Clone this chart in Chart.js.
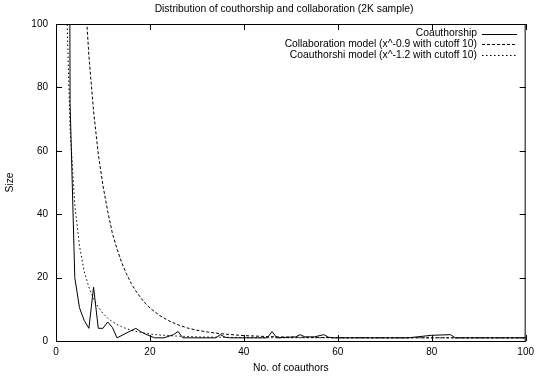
<!DOCTYPE html>
<html>
<head>
<meta charset="utf-8">
<script src="https://cdn.jsdelivr.net/npm/chart.js@4/dist/chart.umd.min.js"></script>
<style>
html,body{margin:0;padding:0;background:#fff;}
</style>
</head>
<body>
<canvas id="chart" width="539" height="380"></canvas>
<script>
const chartTitle = "Distribution of couthorship and collaboration (2K sample)";
const xTitle = "No. of coauthors";
const yTitle = "Size";
const xTicks = [0, 20, 40, 60, 80, 100];
const yTicks = [0, 20, 40, 60, 80, 100];

// measured coauthorship distribution
const coauthLabel = "Coauthorship";
const coauthX = [2, 3, 4, 5, 6, 7, 8, 9, 10, 11, 12, 13, 17, 18, 19, 20, 21, 23, 25, 26, 27, 34, 35, 36, 37, 45, 46, 47, 51, 52, 53, 55, 57, 58, 59, 75, 80, 84, 85, 100];
const coauthY = [600, 75, 20, 10.5, 6.5, 4, 17, 4, 4, 6, 4.3, 1, 4, 3, 2.2, 1.6, 1, 1, 2, 3, 1, 1, 2, 1.2, 1, 1, 3, 1, 1.3, 2, 1.3, 1.3, 2, 1.2, 1, 1, 1.8, 2, 1, 1];

// collaboration model curve (dashed)
const collabLabel = "Collaboration model (x^-0.9 with cutoff 10)";
const collabX = [4, 5, 6, 7, 8, 9, 10, 11, 12, 13, 14, 15, 16, 17, 18, 19, 20, 22, 24, 26, 28, 30, 32, 35, 40, 45, 50, 60, 70, 100];
const collabY = [200, 148, 114, 90, 72.5, 59, 49, 41, 34, 29, 24.7, 21.2, 18.2, 15.8, 13.7, 11.9, 10.4, 8.1, 6.4, 5.1, 4.1, 3.4, 2.9, 2.3, 1.7, 1.4, 1.2, 1.06, 1.02, 1];

// coauthorship model curve (dotted)
const modelLabel = "Coauthorshi model (x^-1.2 with cutoff 10)";
const modelX = [2, 3, 4, 5, 6, 7, 8, 9, 10, 11, 12, 13, 14, 15, 16, 18, 20, 22, 25, 30, 40, 50, 100];
const modelY = [120, 67, 43, 30, 22, 17, 13.3, 10.7, 8.7, 7.2, 6.1, 5.2, 4.5, 3.9, 3.4, 2.7, 2.2, 1.9, 1.6, 1.3, 1.07, 1.02, 1];

const toPoints = (xs, ys) => xs.map((x, i) => ({x: x, y: ys[i]}));

Chart.defaults.font.family = '"Liberation Sans", Arial, Helvetica, sans-serif';
Chart.defaults.font.size = 10;
Chart.defaults.color = "#000";

// gnuplot style border with inward ticks on all four sides
const frame = {
    id: "frame",
    afterDatasetsDraw(c) {
        const {ctx, chartArea: a, scales: {x, y}} = c;
        ctx.save();
        ctx.strokeStyle = "#000";
        ctx.lineWidth = 1;
        ctx.strokeRect(a.left + 0.5, a.top + 0.5, a.right - a.left - 1, a.bottom - a.top);
        ctx.beginPath();
        xTicks.forEach(v => {
            const px = Math.round(x.getPixelForValue(v)) + 0.5;
            ctx.moveTo(px, a.bottom); ctx.lineTo(px, a.bottom - 6);
            ctx.moveTo(px, a.top); ctx.lineTo(px, a.top + 6);
        });
        yTicks.forEach(v => {
            const py = Math.round(y.getPixelForValue(v)) + 0.5;
            ctx.moveTo(a.left, py); ctx.lineTo(a.left + 6, py);
            ctx.moveTo(a.right, py); ctx.lineTo(a.right - 6, py);
        });
        ctx.stroke();
        ctx.restore();
    }
};

const titleAndKey = {
    id: "titleAndKey",
    afterDraw(c) {
        const ctx = c.ctx;
        ctx.save();
        ctx.fillStyle = "#000";
        ctx.font = '10.3px "Liberation Sans", Arial, sans-serif';
        ctx.textAlign = "center";
        ctx.textBaseline = "middle";
        ctx.fillText(chartTitle, 284, 9);
        ctx.textAlign = "right";
        c.data.datasets.forEach((ds, i) => {
            const yy = 33.5 + i * 10.6;
            ctx.fillText(ds.label, 477, yy);
            ctx.beginPath();
            ctx.setLineDash(ds.borderDash || []);
            ctx.lineWidth = 1;
            ctx.strokeStyle = "#000";
            ctx.moveTo(482, Math.round(yy) + 0.5);
            ctx.lineTo(517, Math.round(yy) + 0.5);
            ctx.stroke();
        });
        ctx.restore();
    }
};

new Chart(document.getElementById("chart"), {
    type: "line",
    data: {
        datasets: [
            {label: coauthLabel, data: toPoints(coauthX, coauthY), borderColor: "#000", borderWidth: 1, borderDash: []},
            {label: collabLabel, data: toPoints(collabX, collabY), borderColor: "#000", borderWidth: 1, borderDash: [3, 2]},
            {label: modelLabel, data: toPoints(modelX, modelY), borderColor: "#000", borderWidth: 1, borderDash: [1.5, 2.5]}
        ]
    },
    options: {
        responsive: false,
        animation: false,
        devicePixelRatio: 1,
        layout: {padding: {top: 24, right: 10, bottom: 0, left: 0}},
        elements: {point: {radius: 0}, line: {tension: 0}},
        plugins: {legend: {display: false}, title: {display: false}, tooltip: {enabled: false}},
        scales: {
            x: {
                type: "linear", min: 0, max: 100,
                grid: {display: false, drawTicks: false},
                border: {display: false},
                ticks: {padding: 5, maxRotation: 0},
                afterBuildTicks: s => { s.ticks = xTicks.map(v => ({value: v})); },
                title: {display: true, text: xTitle, font: {size: 10.3}, padding: {top: 0, bottom: 6}},
                afterFit: s => { s.height = 39; }
            },
            y: {
                type: "linear", min: 0, max: 100,
                grid: {display: false, drawTicks: false},
                border: {display: false},
                ticks: {padding: 8},
                afterBuildTicks: s => { s.ticks = yTicks.map(v => ({value: v})); },
                title: {display: true, text: yTitle, font: {size: 10.3}, padding: {top: 4, bottom: 0}},
                afterFit: s => { s.width = 56; }
            }
        }
    },
    plugins: [frame, titleAndKey]
});
</script>
</body>
</html>
